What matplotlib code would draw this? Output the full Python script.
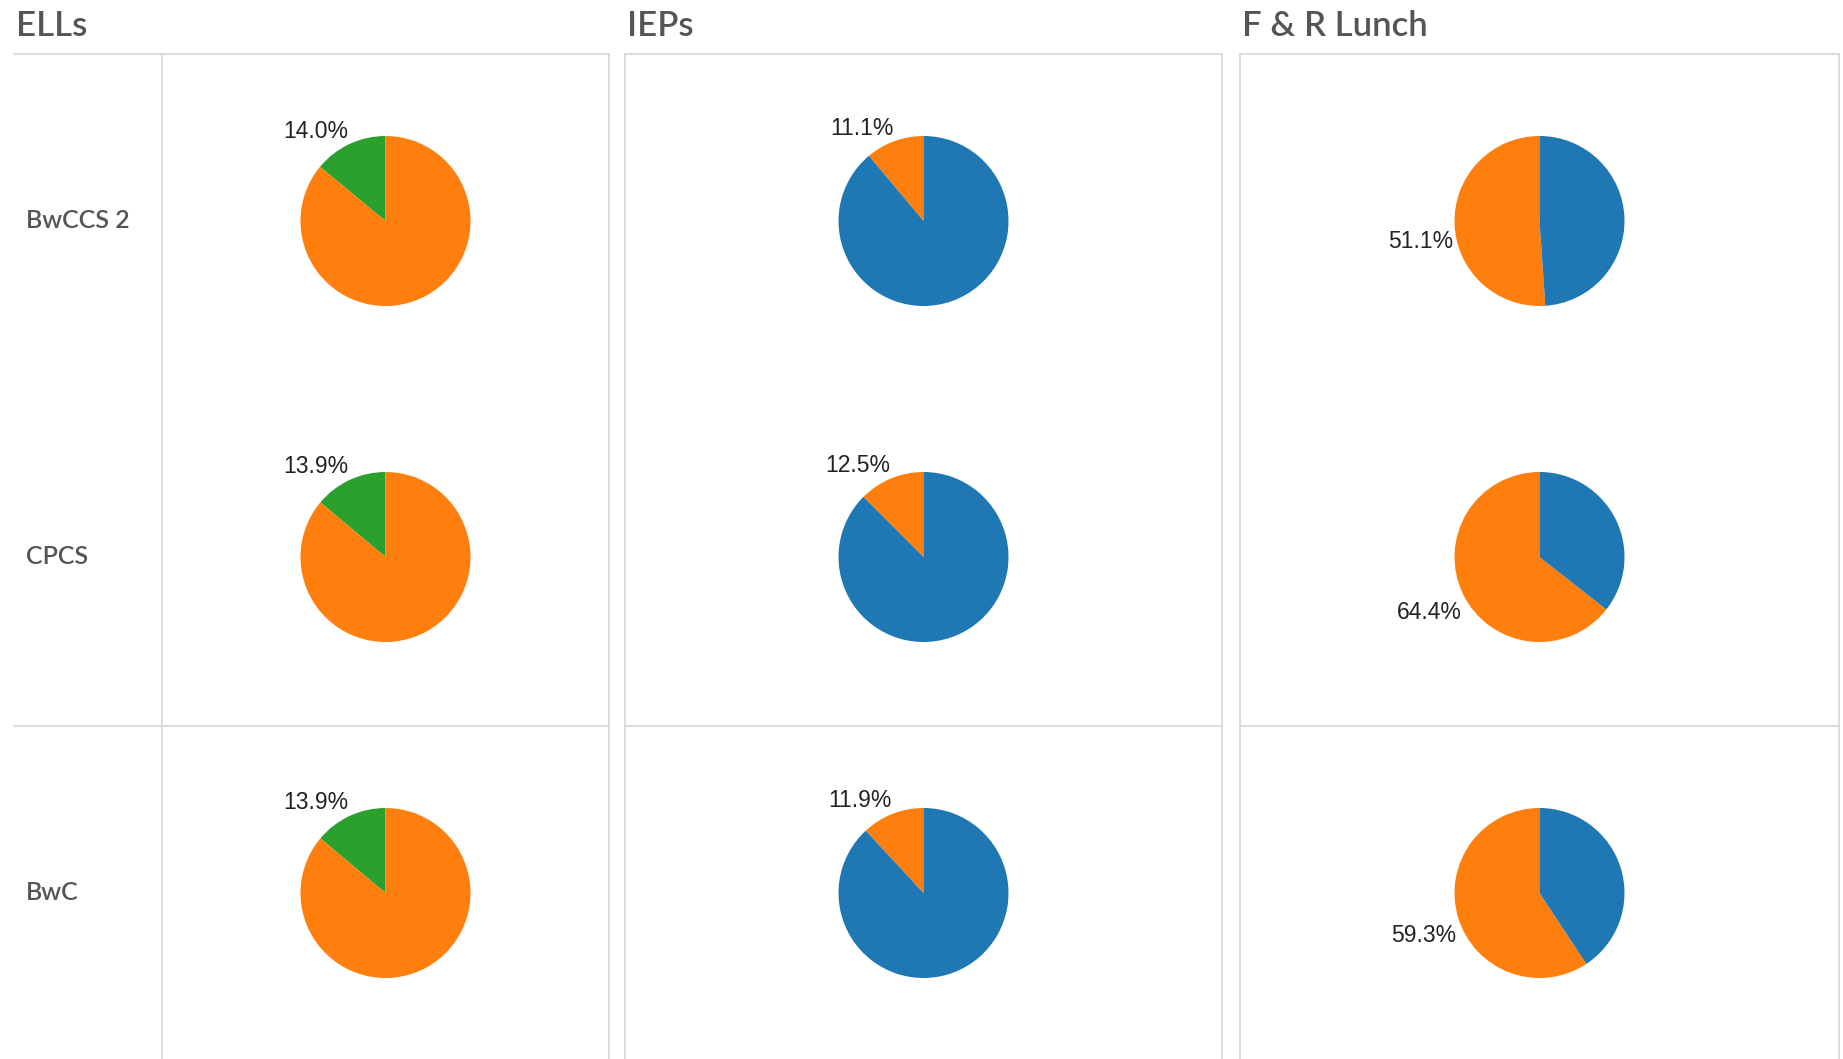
"""
Pie grid: ELLs / IEPs / F & R Lunch by school
"""
import numpy as np
import matplotlib
matplotlib.use("Agg")
import matplotlib.pyplot as plt
from matplotlib.lines import Line2D

# ---- data ----
schools = ["BwCCS 2", "CPCS", "BwC"]
measures = ["ELLs", "IEPs", "F & R Lunch"]
ells_pct = [14.0, 13.9, 13.9]
ieps_pct = [11.1, 12.5, 11.9]
frl_pct = [51.1, 64.4, 59.3]

BLUE, ORANGE, GREEN = "#1f77b4", "#ff7f0e", "#2ca02c"
# colour of labelled slice, colour of the rest
slice_colors = {
    "ELLs": (GREEN, ORANGE),
    "IEPs": (ORANGE, BLUE),
    "F & R Lunch": (ORANGE, BLUE),
}
values = {"ELLs": ells_pct, "IEPs": ieps_pct, "F & R Lunch": frl_pct}

# ---- layout (pixels) ----
W, H = 1843, 1059
panel_x = [(14, 609), (625, 1222), (1240, 1839)]
label_col_x = 162
top_y = 54
split_y = 726
row_h = 336
pie_r = 85
grid_c = "#d9d9d9"
text_c = "#555555"

fig = plt.figure(figsize=(W / 100, H / 100), dpi=100)
bg = fig.add_axes([0, 0, 1, 1])
bg.set_xlim(0, W)
bg.set_ylim(H, 0)
bg.axis("off")

for j, (x0, x1) in enumerate(panel_x):
    bg.add_line(Line2D([x0, x1], [top_y, top_y], color=grid_c, lw=1.3))
    bg.add_line(Line2D([x0, x1], [split_y, split_y], color=grid_c, lw=1.3))
    if j > 0:
        bg.add_line(Line2D([x0, x0], [top_y, H], color=grid_c, lw=1.3))
    bg.add_line(Line2D([x1, x1], [top_y, H], color=grid_c, lw=1.3))
    bg.text(x0 + 2, top_y - 28, measures[j], fontsize=25, color=text_c,
            family="Lato", weight="semibold", ha="left", va="center")
bg.add_line(Line2D([label_col_x, label_col_x], [top_y, H], color=grid_c, lw=1.3))

for i, school in enumerate(schools):
    cy = top_y + row_h * i + row_h / 2 - 1
    bg.text(26, cy, school, fontsize=18, color=text_c, family="Lato",
            weight="semibold", ha="left", va="center")

for j, m in enumerate(measures):
    x0, x1 = panel_x[j]
    if j == 0:
        x0 = label_col_x
    cx = (x0 + x1) / 2
    for i in range(len(schools)):
        cy = top_y + row_h * i + row_h / 2 - 1
        v = values[m][i]
        ax = fig.add_axes([(cx - pie_r) / W, 1 - (cy + pie_r) / H,
                           2 * pie_r / W, 2 * pie_r / H])
        wedges, _ = ax.pie([v, 100 - v], colors=slice_colors[m], startangle=90,
                           counterclock=True, radius=1,
                           wedgeprops=dict(linewidth=0))
        ax.set_xlim(-1, 1)
        ax.set_ylim(-1, 1)
        ax.axis("off")
        w = wedges[0]
        mid = np.deg2rad((w.theta1 + w.theta2) / 2)
        tx, ty = np.cos(mid) * 1.02, np.sin(mid) * 1.02
        if ty < 0:
            ty -= 0.07
        ax.text(tx, ty, f"{v:.1f}%", fontsize=16.5, color="#222222",
                family="Liberation Sans",
                ha="right" if tx < 0 else "left",
                va="bottom" if ty > 0 else "top")

fig.savefig("out.png", dpi=100)
